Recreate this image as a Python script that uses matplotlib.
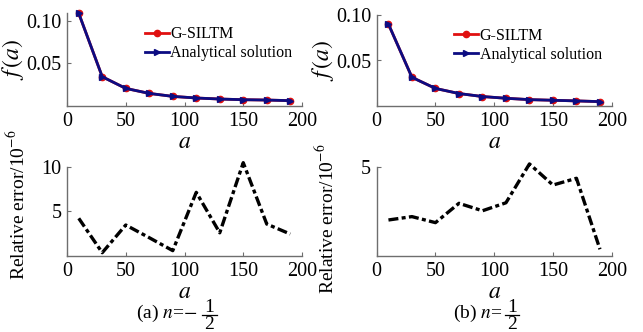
import matplotlib
matplotlib.use("Agg")
import matplotlib.pyplot as plt
from matplotlib.lines import Line2D

plt.rcParams['font.family'] = ['Liberation Serif', 'DejaVu Serif']
plt.rcParams['mathtext.fontset'] = 'stix'

a_vals = [10, 30, 50, 70, 90, 110, 130, 150, 170, 190]

# n = -1/2
f_gsiltm_a = [0.109, 0.0344, 0.0207, 0.0148, 0.0113, 0.0094, 0.0082, 0.0074, 0.0070, 0.0063]
f_exact_a = [0.109, 0.0344, 0.0207, 0.0148, 0.0113, 0.0094, 0.0082, 0.0074, 0.0070, 0.0063]
err_a = [4.22, 0.37, 3.47, 2.05, 0.60, 7.13, 2.60, 10.45, 3.58, 2.46]

# n = 1/2
f_gsiltm_b = [0.090, 0.0315, 0.0193, 0.0137, 0.0104, 0.0085, 0.0070, 0.0063, 0.0056, 0.0048]
f_exact_b = [0.090, 0.0315, 0.0193, 0.0137, 0.0104, 0.0085, 0.0070, 0.0063, 0.0056, 0.0048]
err_b = [2.03, 2.22, 1.88, 2.97, 2.55, 3.00, 5.19, 4.00, 4.38, 0.38]

xticks = [0, 50, 100, 150, 200]
legend_labels = ['G-SILTM', 'Analytical solution']
caption_heads = [r'(a) $n$=$-$', r'(b) $n$=']
caption_num = ['1', '1']
caption_den = ['2', '2']

W, H = 643, 332
fig = plt.figure(figsize=(W / 100, H / 100), dpi=100)


def add_ax(x0, x1, ytop, ybot):
    return fig.add_axes([x0 / W, 1 - ybot / H, (x1 - x0) / W, (ybot - ytop) / H])


def style(ax):
    for s in ['top', 'right']:
        ax.spines[s].set_visible(False)
    for s in ['left', 'bottom']:
        ax.spines[s].set_color('#6e6e6e')
        ax.spines[s].set_linewidth(1.0)
    ax.tick_params(direction='in', length=3, width=0.8, color='#6e6e6e',
                   labelsize=14.5, pad=4)
    ax.set_xlim(0, 200)
    ax.set_xticks(xticks)


red = '#e01010'
navy = '#0c0c82'

tops = [add_ax(67, 302, 13.3, 106), add_ax(376.7, 611.7, 15, 106)]
bots = [add_ax(67, 302, 166.7, 256), add_ax(376.7, 611.7, 167.3, 256)]

for ax, fg, fe, ytop in zip(tops, [f_gsiltm_a, f_gsiltm_b], [f_exact_a, f_exact_b], [0.109, 0.10]):
    style(ax)
    ax.plot(a_vals, fg, color=red, lw=2, marker='o', ms=4.5, clip_on=False, label=legend_labels[0])
    ax.plot(a_vals, fe, color=navy, lw=2, marker='>', ms=5, clip_on=False, label=legend_labels[1])
    ax.set_ylim(0, ytop)
    ax.set_yticks([0.05, 0.10])
    ax.set_yticklabels(['0.05', '0.10'])
    ax.set_xlabel(r'$a$', fontsize=17, labelpad=1)
    ax.set_ylabel(r'$f\,(a)$', fontsize=17, labelpad=0)
    ax.legend(loc='upper left', bbox_to_anchor=(0.33, 0.86), frameon=False,
              fontsize=11.5, handlelength=1.5, handletextpad=0.1,
              labelspacing=0.2, borderpad=0, borderaxespad=0)

for ax, err, ylim, yt, ly in zip(bots, [err_a, err_b], [10, 5], [[5, 10], [5]], [0.57, 0.42]):
    style(ax)
    ax.plot(a_vals, err, color='black', lw=2.4, dashes=(3, 1, 1.2, 1), clip_on=False)
    ax.set_ylim(0, ylim)
    ax.set_yticks(yt)
    ax.set_xlabel(r'$a$', fontsize=17, labelpad=1)
    ax.set_ylabel(r'Relative error/10$^{-6}$', fontsize=14)
    ax.yaxis.set_label_coords(-0.165, ly)

# captions: head text, then stacked fraction
cap_geom = [(197, 209.5, 202, 217), (502, 512, 505, 519)]
for head, num, den, (hx, fx, bx0, bx1) in zip(caption_heads, caption_num, caption_den, cap_geom):
    fig.text(hx / W, 1 - 318 / H, head, ha='right', va='baseline', fontsize=14)
    fig.text(fx / W, 1 - 307.5 / H, num, ha='center', va='center', fontsize=14)
    fig.text(fx / W, 1 - 324.5 / H, den, ha='center', va='center', fontsize=14)
    fig.add_artist(Line2D([bx0 / W, bx1 / W], [1 - 315 / H, 1 - 315 / H],
                          color='black', lw=0.9, transform=fig.transFigure))

fig.savefig('out.png', dpi=100)
